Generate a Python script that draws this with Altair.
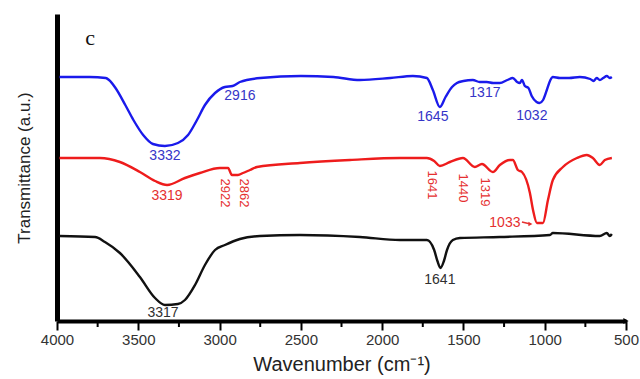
import altair as alt
import pandas as pd

# ---- data ----
blue_wn = [3985, 3800, 3700, 3680, 3640, 3580, 3530, 3470, 3410, 3336, 3256, 3194, 3139, 3090, 3028,
           2967, 2920, 2875, 2750, 2500, 2300, 2137, 1950, 1811, 1725, 1688, 1645, 1610, 1570, 1540,
           1500, 1442, 1400, 1356, 1317, 1276, 1230, 1196, 1170, 1153, 1140, 1122, 1100, 1080, 1050,
           1032, 1010, 987, 965, 950, 907, 850, 784, 720, 700, 680, 661, 640, 618, 600, 587]
blue_t = [244, 244, 243, 241, 233, 216, 201, 186, 177, 175, 178, 186, 201, 216, 228,
          234, 235, 239, 243, 245, 244, 241, 243, 245, 243, 231, 214, 224, 234, 238,
          240, 241, 239, 239, 238, 238, 241, 243, 239, 238, 241, 235, 233, 225, 219,
          218, 221, 231, 241, 244, 243, 243, 244, 242, 240, 243, 241, 243, 245, 243, 244]

red_wn = [3985, 3736, 3613, 3490, 3397, 3323, 3213, 3121, 2998, 2948, 2924, 2887, 2856, 2813, 2770,
          2506, 2198, 1891, 1725, 1680, 1645, 1583, 1503, 1430, 1386, 1319, 1276, 1214, 1196, 1165,
          1140, 1091, 1072, 1048, 1011, 980, 950, 888, 802, 741, 704, 661, 630, 587]
red_t = [163, 163, 159, 149, 140, 136, 143, 148, 153, 153, 146, 146, 148, 151, 154,
         158, 161, 163, 163, 160, 155, 159, 163, 154, 157, 149, 156, 161, 161, 151,
         149, 128, 111, 98, 98, 121, 141, 154, 163, 166, 163, 156, 161, 163]

black_wn = [3985, 3766, 3705, 3613, 3490, 3397, 3336, 3256, 3213, 3151, 3090, 3028, 2967, 2875, 2752,
            2506, 2137, 1891, 1725, 1680, 1660, 1641, 1620, 1601, 1565, 1522, 1276, 968, 950, 661,
            618, 600, 587]
black_t = [85, 84, 79, 68, 44, 23, 16, 17, 21, 36, 56, 71, 76, 82, 85,
           86, 84, 81, 81, 71, 60, 53, 60, 71, 81, 83, 84, 86, 88, 85,
           88, 85, 87]

x_ticks = [4000, 3500, 3000, 2500, 2000, 1500, 1000, 500]
minor_ticks = [3750, 3250, 2750, 2250, 1750, 1250, 750]

# annotations: horizontal
h_labels = ["3332", "2916", "1645", "1317", "1032", "3319", "1033", "3317", "1641"]
h_wn = [3336, 2875, 1688, 1368, 1079, 3323, 1245, 3348, 1645]
h_t = [165, 225, 204, 228, 205, 125, 98, 8, 41]
h_col = ["#3535c8", "#3535c8", "#3535c8", "#3535c8", "#3535c8", "#e53030", "#e53030", "#303030", "#303030"]

# annotations: rotated (red)
v_labels = ["2922", "2862", "1641", "1440", "1319"]
v_wn = [2967, 2850, 1694, 1503, 1368]
v_t = [128, 128, 136, 133, 129]

panel_label = ["c"]
panel_wn = [3797]
panel_t = [283]

rows = []
for name, wns, ts in [("blue", blue_wn, blue_t), ("red", red_wn, red_t), ("black", black_wn, black_t)]:
    for w, t in zip(wns, ts):
        rows.append({"series": name, "wn": w, "t": t})
df = pd.DataFrame(rows)

x_scale = alt.Scale(domain=[500, 4000], reverse=True, nice=False, zero=False)
y_scale = alt.Scale(domain=[0, 307], nice=False, zero=False)

x_axis = alt.Axis(values=x_ticks, format="d", grid=False, labelFlush=False,
                  domainColor="black", domainWidth=4, tickColor="black", tickWidth=2, tickSize=9,
                  labelFont="Liberation Sans", labelFontSize=15, labelColor="#333333", labelPadding=2,
                  title="Wavenumber (cm⁻¹)", titleFont="Liberation Sans", titleFontSize=20,
                  titleFontWeight="normal", titleColor="#222222", titlePadding=7)
y_axis = alt.Axis(labels=False, ticks=False, grid=False, domainColor="black", domainWidth=5,
                  title="Transmittance (a.u.)", titleFont="Liberation Sans", titleFontSize=17,
                  titleFontWeight="normal", titleColor="#222222", titlePadding=24)

lines = alt.Chart(df).mark_line(strokeWidth=2.4, interpolate="monotone").encode(
    x=alt.X("wn:Q", scale=x_scale, axis=x_axis),
    y=alt.Y("t:Q", scale=y_scale, axis=y_axis),
    color=alt.Color("series:N", scale=alt.Scale(domain=["blue", "red", "black"],
                                                 range=["#1a1aeb", "#ee1c1c", "#111111"]), legend=None),
)

htext = alt.Chart(pd.DataFrame({"label": h_labels, "wn": h_wn, "t": h_t, "col": h_col})).mark_text(
    font="Liberation Sans", fontSize=14, baseline="middle", align="center").encode(
    x=alt.X("wn:Q", scale=x_scale), y=alt.Y("t:Q", scale=y_scale),
    text="label:N", color=alt.Color("col:N", scale=None))

vtext = alt.Chart(pd.DataFrame({"label": v_labels, "wn": v_wn, "t": v_t})).mark_text(
    font="Liberation Sans", fontSize=13, baseline="middle", align="center", angle=90, color="#e53030").encode(
    x=alt.X("wn:Q", scale=x_scale), y=alt.Y("t:Q", scale=y_scale), text="label:N")

ptext = alt.Chart(pd.DataFrame({"label": panel_label, "wn": panel_wn, "t": panel_t})).mark_text(
    font="Liberation Serif", fontSize=22, baseline="middle", align="center", color="#111111").encode(
    x=alt.X("wn:Q", scale=x_scale), y=alt.Y("t:Q", scale=y_scale), text="label:N")

arrow_df = pd.DataFrame({"wn": [1140], "wn2": [1088], "t": [99], "t2": [97]})
arrow_line = alt.Chart(arrow_df).mark_rule(color="#e53030", strokeWidth=1.5).encode(
    x=alt.X("wn:Q", scale=x_scale), x2="wn2", y=alt.Y("t:Q", scale=y_scale), y2="t2")
arrow_head = alt.Chart(arrow_df).mark_point(shape="triangle-right", filled=True, size=22,
                                            color="#e53030", opacity=1).encode(
    x=alt.X("wn2:Q", scale=x_scale), y=alt.Y("t2:Q", scale=y_scale))

minor = alt.Chart(pd.DataFrame({"wn": minor_ticks})).mark_rule(color="black", strokeWidth=2).encode(
    x=alt.X("wn:Q", scale=x_scale), y=alt.value(307), y2=alt.value(313))

axis_arrow = alt.Chart(pd.DataFrame({"wn": [500]})).mark_point(
    shape="triangle-right", filled=True, size=36, color="black", opacity=1).encode(
    x=alt.X("wn:Q", scale=x_scale), y=alt.value(307))

chart = alt.layer(lines, htext, vtext, ptext, arrow_line, arrow_head, minor, axis_arrow).properties(
    width=569, height=307,
    autosize=alt.AutoSizeParams(type="none"),
    padding={"left": 57, "top": 14, "right": 14, "bottom": 58},
    background="white",
).configure_view(stroke=None)

chart.save("out.html", embed_options={"renderer": "svg", "actions": False})
